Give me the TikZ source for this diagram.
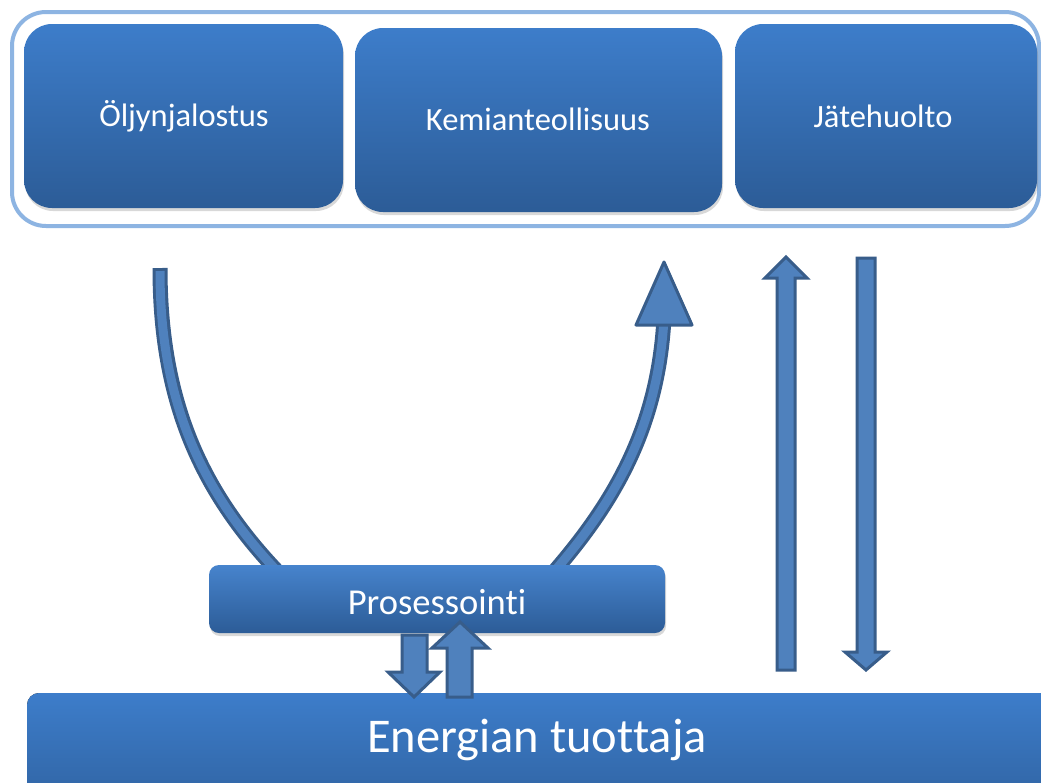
\documentclass[tikz,border=0pt]{standalone}
\usepackage{fontspec}
\setmainfont[RawFeature={-liga}]{Carlito}
\usetikzlibrary{shadows}
\definecolor{boxtop}{HTML}{3D7DCA}
\definecolor{boxbot}{HTML}{2C5C97}
\definecolor{frameblue}{HTML}{8DB4E2}
\definecolor{arrfill}{HTML}{4F81BD}
\definecolor{arredge}{HTML}{385D8A}
\begin{document}
\begin{tikzpicture}[x=1pt,y=-1pt,
  bluebox/.style={rounded corners=28pt, top color=boxtop, bottom color=boxbot,
    draw=none, text=white, inner sep=0pt,
    drop shadow={shadow xshift=1pt, shadow yshift=-3pt, opacity=0.3}},
  flatbox/.style={rounded corners=10pt, top color=boxtop!95!white, bottom color=boxbot,
    draw=none, text=white, inner sep=0pt,
    drop shadow={shadow xshift=1pt, shadow yshift=-3pt, opacity=0.3}},
  blockarrow/.style={fill=arrfill, draw=arredge, line width=3pt, line join=miter},
  curveedge/.style={draw=arredge, line width=15pt},
  curvefill/.style={draw=arrfill, line width=9pt},
  toplabel/.style={font=\fontsize{32.5}{38}\selectfont, text=white}]
\useasboundingbox (0,0) rectangle (1041,782);
\fill[white] (0,0) rectangle (1041,782);
\clip (0,0) rectangle (1041,782);

% outer frame
\draw[frameblue, line width=4pt, rounded corners=34pt] (12,12) rectangle (1039,226);

% top boxes
\node[bluebox, minimum width=319pt, minimum height=184pt] (oil) at (183.5,116) {};
\node[toplabel] (oiltxt) at (184,116) {Öljynjalostus};
\node[bluebox, minimum width=367pt, minimum height=184pt] (chem) at (538.5,120) {};
\node[toplabel] (chemtxt) at (538,119) {Kemianteollisuus};
\node[bluebox, minimum width=302pt, minimum height=184pt] (waste) at (886,116) {};
\node[toplabel] (wastetxt) at (883,116) {Jätehuolto};

% curved arrows
\coordinate (lstart) at (160,268);
\coordinate (lend) at (278,572);
\draw[curveedge] (lstart) .. controls (160,400) and (200,490) .. (lend);
\draw[curvefill, shorten <=3pt] (lstart) .. controls (160,400) and (200,490) .. (lend);
\coordinate (rstart) at (552,574);
\coordinate (rend) at (664,318);
\draw[curveedge] (rstart) .. controls (612,505) and (658,430) .. (rend);
\draw[curvefill] (rstart) .. controls (612,505) and (658,430) .. (rend);
\draw[blockarrow, line join=round] (636,325) -- (692,325) -- (664,262) -- cycle;

% processing box
\node[flatbox, minimum width=456pt, minimum height=68pt] (proc) at (437,599) {};
\node[font=\fontsize{36.5}{42}\selectfont, text=white] (proctxt) at (437,602) {Prosessointi};

% energy producer
\fill[top color=boxtop, bottom color=boxbot, rounded corners=12pt,
  drop shadow={shadow xshift=1pt, shadow yshift=-3pt, opacity=0.3}] (27,693) rectangle (1080,840);
\node[font=\fontsize{48.5}{54}\selectfont, text=white] (energy) at (537,740) {Energian tuottaja};

% straight vertical arrows
\draw[blockarrow] (777,670) -- (795,670) -- (795,278) -- (807,278) -- (786,257) -- (765,278) -- (777,278) -- cycle;
\draw[blockarrow] (857,258) -- (875,258) -- (875,652) -- (887,652) -- (866,670) -- (845,652) -- (857,652) -- cycle;

% small arrows between processing and energy
\draw[blockarrow] (402,635) -- (427,635) -- (427,672) -- (440,672) -- (414,697) -- (388,672) -- (402,672) -- cycle;
\draw[blockarrow] (447,697) -- (472,697) -- (472,648) -- (488,648) -- (460,622) -- (432,648) -- (447,648) -- cycle;
\end{tikzpicture}
\end{document}
